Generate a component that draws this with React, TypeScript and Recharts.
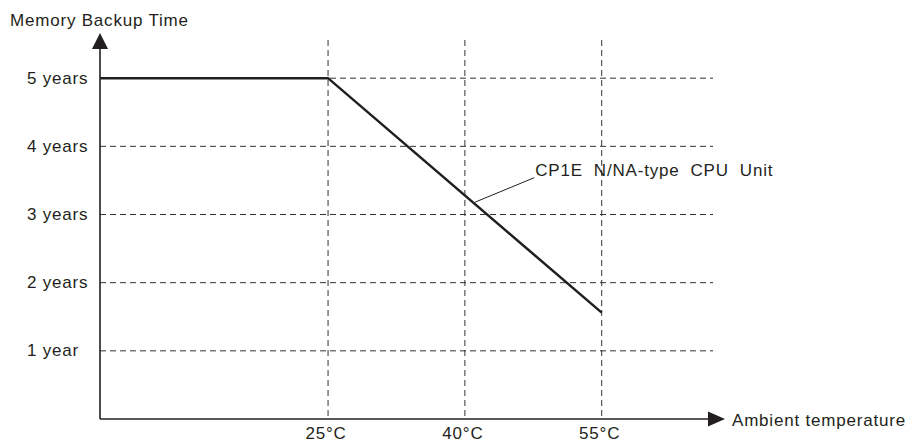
import React from 'react';
import { LineChart, Line, XAxis, YAxis, CartesianGrid, ReferenceLine } from 'recharts';

const temperatures = [0, 25, 55];
const backupYears = [5, 5, 1.56];
const xTicks = [25, 40, 55];
const xTickLabels = ['25°C', '40°C', '55°C'];
const yTicks = [1, 2, 3, 4, 5];
const yTickLabels = ['1 year', '2 years', '3 years', '4 years', '5 years'];
const seriesName = 'CP1E  N/NA-type  CPU  Unit';
const yTitle = 'Memory Backup Time';
const xTitle = 'Ambient temperature';
const annotationFrom = { x: 41.1, y: 3.18 };
const annotationTo = { x: 47.6, y: 3.54 };
const xDomain = [0, 67.2];
const yDomain = [0, 5.56];

const data = temperatures.map((t, i) => ({ t, years: backupYears[i] }));

const INK = '#231f20';
const textStyle: React.CSSProperties = {
  fontFamily: '"Liberation Sans", Arial, Helvetica, sans-serif',
  fontSize: 17,
  letterSpacing: 0.8,
  fill: INK,
  whiteSpace: 'pre',
};

const scaleOf = (axis: any) => {
  if (!axis) return null;
  const s = axis.scale;
  if (typeof s === 'function') return s;
  if (s && typeof s.map === 'function') return (v: number) => s.map(v);
  return null;
};

const hGen = (p: any) => {
  const s = scaleOf(p.yAxis);
  if (s) return yTicks.map((v) => s(v));
  const o = p.offset;
  return yTicks.map((v) => o.top + o.height * (1 - (v - yDomain[0]) / (yDomain[1] - yDomain[0])));
};

const vGen = (p: any) => {
  const s = scaleOf(p.xAxis);
  if (s) return xTicks.map((v) => s(v));
  const o = p.offset;
  return xTicks.map((v) => o.left + (o.width * (v - xDomain[0])) / (xDomain[1] - xDomain[0]));
};

const XTick = (props: any) => {
  const { x, payload } = props;
  const label = xTickLabels[xTicks.indexOf(payload.value)] ?? String(payload.value);
  return (
    <text x={x - 2} y={439} textAnchor="middle" style={textStyle}>
      {label}
    </text>
  );
};

const YTick = (props: any) => {
  const { y, payload } = props;
  const label = yTickLabels[yTicks.indexOf(payload.value)] ?? String(payload.value);
  return (
    <text x={27} y={y} dy={5.5} textAnchor="start" style={textStyle}>
      {label}
    </text>
  );
};

const YAxisArrow = (props: any) => {
  const { x1, y1, y2 } = props;
  const top = Math.min(y1, y2);
  const bottom = Math.max(y1, y2);
  return (
    <g>
      <line x1={x1} y1={bottom} x2={x1} y2={top + 9} stroke={INK} strokeWidth={1.6} />
      <polygon points={`${x1 - 8},${top + 9} ${x1 + 8},${top + 9} ${x1},${top - 7}`} fill={INK} />
      <text x={x1 - 90} y={top - 14} style={textStyle}>{yTitle}</text>
    </g>
  );
};

const XAxisArrow = (props: any) => {
  const { x1, x2, y1 } = props;
  const left = Math.min(x1, x2);
  const right = Math.max(x1, x2);
  return (
    <g>
      <line x1={left} y1={y1} x2={right - 5} y2={y1} stroke={INK} strokeWidth={1.6} />
      <polygon points={`${right - 5},${y1 - 7.5} ${right - 5},${y1 + 7.5} ${right + 12},${y1}`} fill={INK} />
      <text x={right + 19} y={y1 + 7} style={textStyle}>{xTitle}</text>
    </g>
  );
};

const Annotation = (props: any) => {
  const { x1, y1, x2, y2 } = props;
  const endX = Math.max(x1, x2);
  const endY = x2 >= x1 ? y2 : y1;
  return (
    <g>
      <line x1={x1} y1={y1} x2={x2} y2={y2} stroke={INK} strokeWidth={1} />
      <text x={endX + 1} y={endY - 1.5} style={textStyle}>{seriesName}</text>
    </g>
  );
};

export default function App() {
  return (
    <div style={{ position: 'absolute', left: 0, top: 0, width: 907, height: 443, background: '#fff' }}>
      <LineChart
        width={907}
        height={443}
        data={data}
        margin={{ top: 40, right: 194, bottom: 0, left: 0 }}
      >
        <CartesianGrid
          stroke="#333"
          strokeWidth={1}
          strokeDasharray="6 4"
          horizontal={true}
          vertical={true}
          horizontalCoordinatesGenerator={hGen}
          verticalCoordinatesGenerator={vGen}
        />
        <XAxis
          dataKey="t"
          type="number"
          domain={xDomain}
          ticks={xTicks}
          interval={0}
          axisLine={false}
          tickLine={false}
          height={24}
          tick={<XTick />}
        />
        <YAxis
          type="number"
          domain={yDomain}
          ticks={yTicks}
          interval={0}
          axisLine={false}
          tickLine={false}
          width={100}
          tick={<YTick />}
        />
        <Line
          dataKey="years"
          type="linear"
          stroke={INK}
          strokeWidth={2.5}
          dot={false}
          activeDot={false}
          isAnimationActive={false}
        />
        <ReferenceLine x={0} ifOverflow="visible" shape={(p: any) => <YAxisArrow {...p} />} />
        <ReferenceLine y={0} ifOverflow="visible" shape={(p: any) => <XAxisArrow {...p} />} />
        <ReferenceLine
          segment={[annotationFrom, annotationTo]}
          ifOverflow="visible"
          shape={(p: any) => <Annotation {...p} />}
        />
      </LineChart>
    </div>
  );
}
